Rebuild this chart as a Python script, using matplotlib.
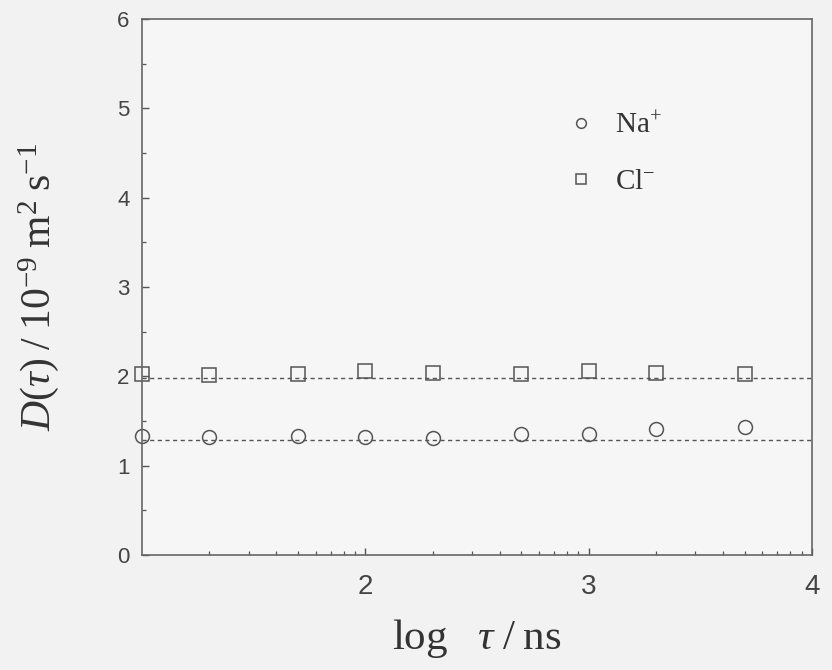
import numpy as np
import matplotlib.pyplot as plt
from matplotlib.ticker import FixedLocator, FuncFormatter

plt.rcParams['font.family'] = ['Liberation Sans', 'DejaVu Sans']
plt.rcParams['mathtext.fontset'] = 'custom'
plt.rcParams['mathtext.rm'] = 'Liberation Serif'
plt.rcParams['mathtext.it'] = 'Liberation Serif:italic'

# time windows (ns) and diffusion coefficients (1e-9 m^2/s)
tau = [10, 20, 50, 100, 200, 500, 1000, 2000, 5000]
d_na = [1.33, 1.32, 1.33, 1.32, 1.31, 1.35, 1.35, 1.41, 1.43]
d_cl = [2.03, 2.02, 2.03, 2.06, 2.04, 2.03, 2.06, 2.04, 2.03]
# long-time limits
na_limit = 1.29
cl_limit = 1.98

ink = '#555555'

fig = plt.figure(figsize=(8.32, 6.70), dpi=100, facecolor='#f2f2f2')
ax = fig.add_axes([0.1707, 0.1716, 0.8053, 0.800])
ax.set_facecolor('#f6f6f6')

ax.axhline(na_limit, color=ink, lw=1.0, ls=(0, (3, 2.5)))
ax.axhline(cl_limit, color=ink, lw=1.0, ls=(0, (3, 2.5)))

ax.plot(tau, d_na, 'o', ms=10, mfc='none', mec=ink, mew=1.1, ls='none',
        label=r'Na$^{+}$', clip_on=False)
ax.plot(tau, d_cl, 's', ms=9.5, mfc='none', mec=ink, mew=1.1, ls='none',
        label=r'Cl$^{-}$', clip_on=False)

ax.set_xscale('log')
ax.set_xlim(10, 1e4)
ax.set_ylim(0, 6)
ax.xaxis.set_major_locator(FixedLocator([100, 1000, 10000]))
ax.xaxis.set_major_formatter(FuncFormatter(lambda v, p: f'{np.log10(v):.0f}'))
ax.yaxis.set_major_locator(FixedLocator([0, 1, 2, 3, 4, 5, 6]))
ax.yaxis.set_minor_locator(FixedLocator(np.arange(0.5, 6, 1.0)))

ax.tick_params(which='both', direction='in', color=ink, labelcolor='#444444')
ax.tick_params(which='major', length=5, width=1.0)
ax.tick_params(which='minor', length=3, width=0.9)
ax.tick_params(axis='y', labelsize=16, pad=9)
ax.tick_params(axis='x', labelsize=20, pad=14)
for s in ax.spines.values():
    s.set_color('#666666')
    s.set_linewidth(1.2)

ax.set_ylabel(r'$D(\tau)\;/\;10^{-9}\;\mathrm{m}^{2}\;\mathrm{s}^{-1}$',
              fontsize=30, color='#333333', labelpad=40)
ax.set_xlabel(r'$\mathrm{log}\ \ \ \tau\;/\;\mathrm{ns}$',
              fontsize=31, color='#333333', labelpad=12)

leg = ax.legend(loc='upper left', bbox_to_anchor=(0.59, 0.875), frameon=False,
                markerscale=0.7, handletextpad=0.55, labelspacing=1.0,
                prop={'family': 'Liberation Serif', 'size': 21},
                handlelength=1.2)
for t in leg.get_texts():
    t.set_color('#333333')

fig.savefig('out.png', dpi=100, facecolor=fig.get_facecolor())
